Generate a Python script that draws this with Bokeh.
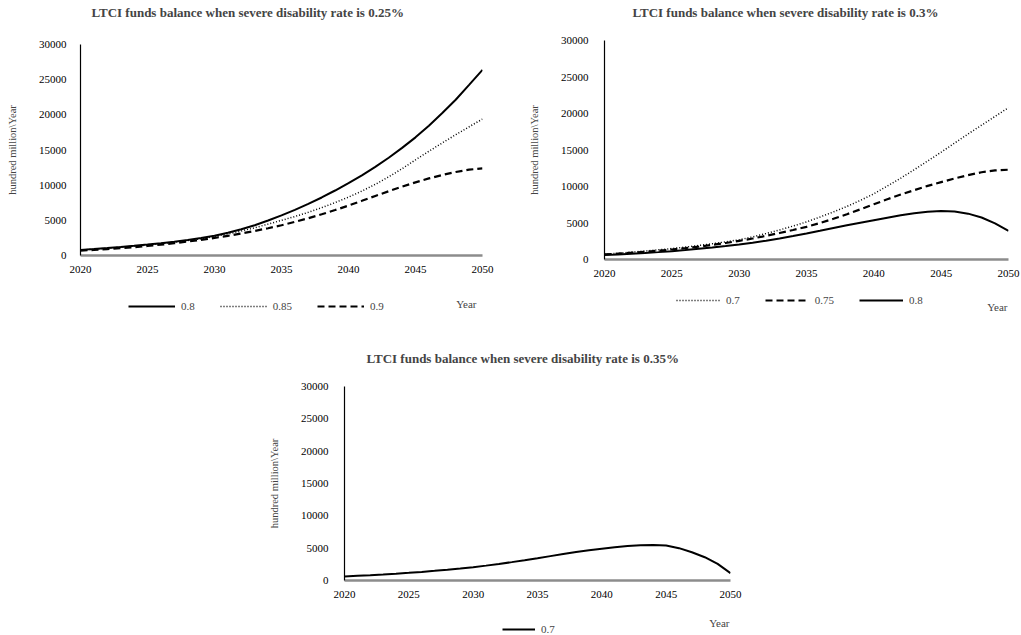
from bokeh.plotting import figure
from bokeh.models import Range1d, FixedTicker, Legend, LegendItem, Label, Spacer, Title
from bokeh.layouts import row, column
from bokeh.embed import file_html
from bokeh.resources import INLINE

years = list(range(2020, 2051))

# Panel 1: severe disability rate 0.25%
p1_080 = [800, 930, 1070, 1220, 1380, 1550, 1750, 1970, 2220, 2500, 2810,
          3230, 3730, 4310, 4970, 5700, 6480, 7330, 8250, 9240, 10300,
          11400, 12600, 13900, 15300, 16800, 18450, 20250, 22150, 24250, 26400]
p1_085 = [780, 900, 1030, 1170, 1320, 1480, 1670, 1885, 2130, 2400, 2700,
          3060, 3480, 3950, 4460, 5000, 5540, 6140, 6800, 7520, 8300,
          9160, 10120, 11180, 12340, 13600, 14820, 16010, 17170, 18300, 19400]
p1_090 = [700, 790, 900, 1030, 1180, 1350, 1540, 1750, 1980, 2230, 2500,
          2800, 3130, 3490, 3880, 4300, 4780, 5300, 5860, 6460, 7100,
          7780, 8470, 9140, 9790, 10400, 10960, 11450, 11870, 12200, 12400]

# Panel 2: severe disability rate 0.3%
p2_070 = [730, 860, 1000, 1160, 1320, 1500, 1700, 1920, 2160, 2420, 2700,
          3100, 3550, 4050, 4580, 5150, 5820, 6520, 7270, 8100, 9000,
          10050, 11150, 12300, 13500, 14700, 15950, 17200, 18400, 19600, 20800]
p2_075 = [700, 810, 930, 1060, 1210, 1370, 1560, 1770, 2000, 2260, 2550,
          2880, 3240, 3630, 4040, 4470, 5000, 5580, 6200, 6870, 7570,
          8250, 8900, 9500, 10080, 10600, 11100, 11550, 11950, 12200, 12300]
p2_080 = [600, 690, 790, 890, 1010, 1140, 1290, 1460, 1640, 1840, 2050,
          2300, 2570, 2880, 3210, 3560, 3930, 4310, 4680, 5040, 5380,
          5720, 6050, 6330, 6540, 6650, 6580, 6280, 5750, 4950, 3920]

# Panel 3: severe disability rate 0.35%
p3_070 = [620, 720, 820, 930, 1050, 1180, 1330, 1490, 1670, 1860, 2060,
          2300, 2560, 2840, 3140, 3450, 3770, 4090, 4390, 4660, 4900,
          5130, 5320, 5450, 5500, 5400, 5000, 4370, 3600, 2570, 1130]

x_ticks = [2020, 2025, 2030, 2035, 2040, 2045, 2050]
y_ticks = [0, 5000, 10000, 15000, 20000, 25000, 30000]

titles = ["LTCI funds balance when severe disability rate is 0.25%",
          "LTCI funds balance when severe disability rate is 0.3%",
          "LTCI funds balance when severe disability rate is 0.35%"]
y_label = "hundred million\\Year"
x_label = "Year"

SERIF = "Liberation Serif"
STYLES = {"solid": dict(line_dash="solid", line_width=2),
          "dotted": dict(line_dash="1 2", line_width=1.5),
          "dashed": dict(line_dash="7 4", line_width=2.2)}
NAN = float("nan")


def make_panel(title, series, width, height, bl, br, bt, bb, title_off,
               tick_standoff, gap_font):
    p = figure(width=width, height=height, output_backend="svg",
               toolbar_location=None, x_range=Range1d(2020, 2050),
               y_range=Range1d(0, 30000), min_border_left=bl,
               min_border_right=br, min_border_top=bt, min_border_bottom=bb)
    p.title.text = ""
    # blank spacer between the frame and the title
    p.add_layout(Title(text=" ", text_font_size=gap_font, standoff=0), "above")
    p.add_layout(Title(text=title, align="left", offset=title_off, standoff=0,
                       text_font=SERIF, text_font_size="13px",
                       text_font_style="bold"), "above")
    p.outline_line_color = None
    p.grid.visible = False
    p.xaxis.ticker = FixedTicker(ticks=x_ticks)
    p.yaxis.ticker = FixedTicker(ticks=y_ticks)
    for ax in (p.xaxis, p.yaxis):
        ax.major_tick_line_color = None
        ax.minor_tick_line_color = None
        ax.major_label_text_font = SERIF
        ax.major_label_text_font_size = "11px"
        ax.major_label_text_color = "black"
    p.xaxis.axis_line_color = "#8c8c8c"
    p.xaxis.axis_line_width = 2.5
    p.xaxis.major_label_standoff = 4
    p.yaxis.axis_line_color = "black"
    p.yaxis.axis_line_width = 1.2
    p.yaxis.major_label_standoff = tick_standoff
    p.yaxis.axis_label = y_label
    p.yaxis.axis_label_text_font = SERIF
    p.yaxis.axis_label_text_font_size = "10.5px"
    p.yaxis.axis_label_text_font_style = "normal"
    p.yaxis.axis_label_standoff = 18
    for name, vals, style in series:
        p.line(years, vals, line_color="black", **STYLES[style])
    return p


def make_legend(series, width, height, bl, br, leg_loc, glyph_w, glyph_h,
                year_xy, spacing):
    fw = width - bl - br
    q = figure(width=width, height=height, output_backend="svg",
               toolbar_location=None, x_axis_type=None, y_axis_type=None,
               x_range=Range1d(0, fw), y_range=Range1d(0, height),
               min_border_left=bl, min_border_right=br,
               min_border_top=0, min_border_bottom=0)
    q.outline_line_color = None
    q.grid.visible = False
    items = []
    for name, vals, style in series:
        r = q.line(x=[NAN], y=[NAN], line_color="black", **STYLES[style])
        items.append(LegendItem(label=name, renderers=[r]))
    leg = Legend(items=items, orientation="horizontal", location=leg_loc,
                 border_line_color=None, background_fill_alpha=0,
                 padding=0, margin=0, spacing=spacing, label_standoff=6,
                 label_width=5, glyph_width=glyph_w, glyph_height=glyph_h,
                 label_text_font=SERIF, label_text_font_size="11px")
    q.add_layout(leg, "center")
    yx = min(year_xy[0], fw - 1)
    q.add_layout(Label(x=yx, y=year_xy[1], text=x_label,
                       text_font=SERIF, text_font_size="11px",
                       text_align="right", text_baseline="middle"))
    return q


s1 = [("0.8", p1_080, "solid"), ("0.85", p1_085, "dotted"),
      ("0.9", p1_090, "dashed")]
s2 = [("0.7", p2_070, "dotted"), ("0.75", p2_075, "dashed"),
      ("0.8", p2_080, "solid")]
s3 = [("0.7", p3_070, "solid")]

p1 = make_panel(titles[0], s1, 510, 283, 80, 28, 44, 28, 11, 8, "21px")
l1 = make_legend(s1, 510, 40, 80, 28, (48, 7), 47, 20, (396, 20), 25)
p2 = make_panel(titles[1], s2, 511, 283, 94, 13, 40, 24, 28, 10, "17px")
l2 = make_legend(s2, 511, 40, 94, 13, (72, 13), 44, 20, (407, 17), 25)
p3 = make_panel(titles[2], s3, 520, 280, 94, 40, 63, 23, 22, 10, "17px")
l3 = make_legend(s3, 520, 32, 94, 40, (158, 0), 33, 12, (392, 13), 25)

layout = column(row(column(p1, l1), column(p2, l2)),
                row(Spacer(width=250, height=312), column(p3, l3)))

open("out.html", "w").write(file_html(layout, INLINE))
